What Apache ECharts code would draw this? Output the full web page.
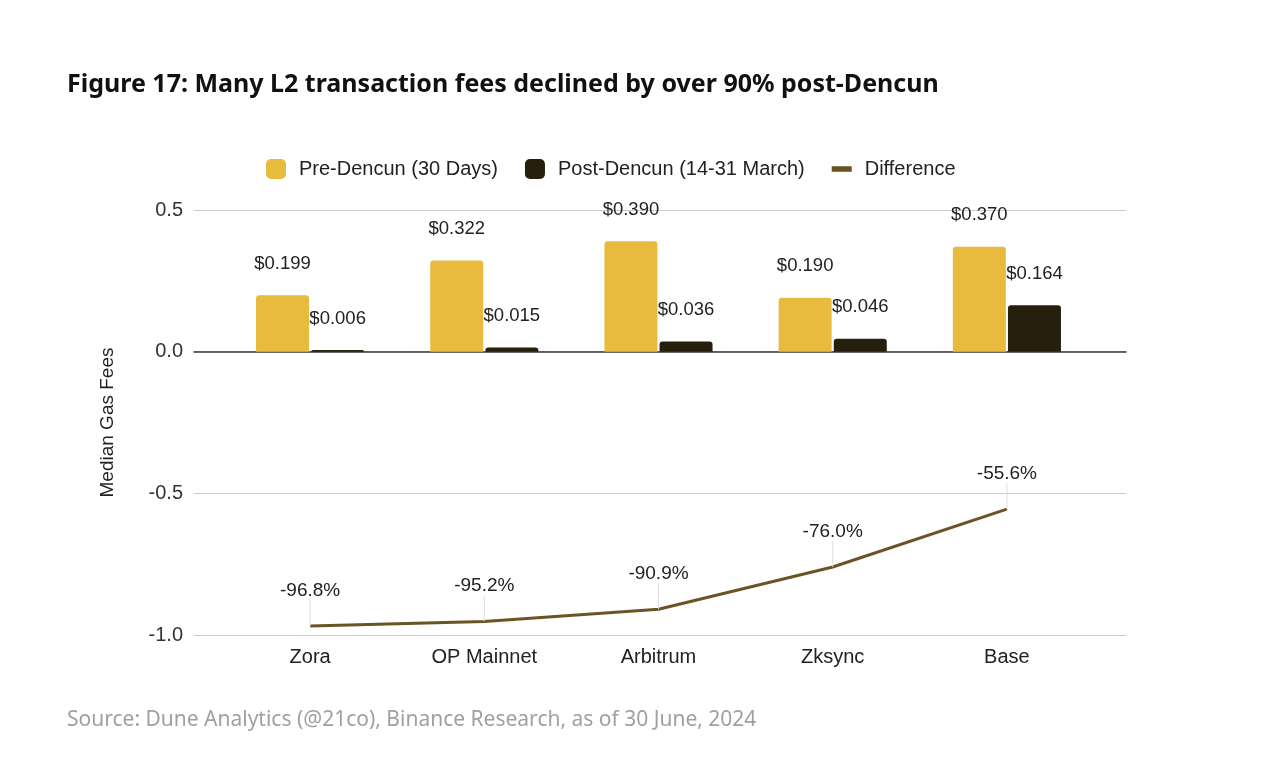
<!DOCTYPE html>
<html>
<head>
<meta charset="utf-8">
<script src="https://cdn.jsdelivr.net/npm/echarts@6/dist/echarts.min.js"></script>
<style>
html,body{margin:0;padding:0;background:#fff;}
#chart{width:1280px;height:758px;}
</style>
</head>
<body>
<div id="chart"></div>
<script>
const categories = ['Zora', 'OP Mainnet', 'Arbitrum', 'Zksync', 'Base'];
const preDencun = [0.199, 0.322, 0.390, 0.190, 0.370];
const postDencun = [0.006, 0.015, 0.036, 0.046, 0.164];
const difference = [-0.968, -0.952, -0.909, -0.760, -0.556];
const yTicks = { min: -1, max: 0.5, interval: 0.5 };

const chart = echarts.init(document.getElementById('chart'));
const sans = '"Liberation Sans", Arial, sans-serif';
const option = {
  backgroundColor: '#ffffff',
  animation: false,
  title: [{
    text: 'Figure 17: Many L2 transaction fees declined by over 90% post-Dencun',
    left: 62, top: 67,
    textStyle: { fontFamily: '"Noto Sans", sans-serif', fontWeight: 'bold', fontSize: 25, color: '#111' }
  }, {
    text: 'Source: Dune Analytics (@21co), Binance Research, as of 30 June, 2024',
    left: 62, top: 705,
    textStyle: { fontFamily: '"Noto Sans", sans-serif', fontWeight: 'normal', fontSize: 21, color: '#a0a0a0' }
  }],
  legend: {
    left: 261, top: 154,
    itemWidth: 20, itemHeight: 20, itemGap: 27,
    textStyle: { fontFamily: sans, fontSize: 20, color: '#222', padding: [0, 0, 0, 8] },
    data: [
      { name: 'Pre-Dencun (30 Days)', icon: 'roundRect' },
      { name: 'Post-Dencun (14-31 March)', icon: 'roundRect' },
      { name: 'Difference', icon: 'path://M0,0 H18 V5 H0 Z' }
    ]
  },
  grid: [
    { left: 194, top: 210, width: 932, height: 425 },
    { left: 223, top: 210, width: 871, height: 425 }
  ],
  xAxis: [{
    gridIndex: 0, type: 'value', min: 0, max: 1,
    axisLabel: { show: false }, axisTick: { show: false }, splitLine: { show: false },
    axisLine: { show: true, onZero: true, lineStyle: { color: '#3a3a3a', width: 1.5 } }
  }, {
    gridIndex: 1, type: 'category', data: categories,
    axisLine: { show: false }, axisTick: { show: false },
    axisLabel: { fontFamily: sans, fontSize: 20, color: '#222', margin: 12 }
  }],
  yAxis: [{
    gridIndex: 0, type: 'value', min: yTicks.min, max: yTicks.max, interval: yTicks.interval,
    name: 'Median Gas Fees', nameLocation: 'middle', nameGap: 77,
    nameTextStyle: { fontFamily: sans, fontSize: 19, color: '#222' },
    axisLabel: { fontFamily: sans, fontSize: 20, color: '#333', margin: 11, formatter: v => v.toFixed(1) },
    axisLine: { show: false }, axisTick: { show: false },
    splitLine: { lineStyle: { color: '#cccccc', width: 1 } }
  }, {
    gridIndex: 1, type: 'value', min: yTicks.min, max: yTicks.max, interval: yTicks.interval,
    show: false
  }],
  series: [{
    name: 'Pre-Dencun (30 Days)', type: 'bar', xAxisIndex: 1, yAxisIndex: 1,
    data: preDencun, barWidth: 53, barGap: '4%',
    itemStyle: { color: '#E8BB3F', borderRadius: [3, 3, 0, 0] },
    label: { show: true, position: 'top', distance: 22, fontFamily: sans, fontSize: 18.5, color: '#222',
      formatter: p => '$' + p.value.toFixed(3) }
  }, {
    name: 'Post-Dencun (14-31 March)', type: 'bar', xAxisIndex: 1, yAxisIndex: 1,
    data: postDencun, barWidth: 53, barGap: '4%',
    itemStyle: { color: '#261F0E', borderRadius: [3, 3, 0, 0] },
    label: { show: true, position: 'top', distance: 22, fontFamily: sans, fontSize: 18.5, color: '#222',
      formatter: p => '$' + p.value.toFixed(3) }
  }, {
    name: 'Difference', type: 'line', xAxisIndex: 1, yAxisIndex: 1,
    data: difference, showSymbol: true, symbol: 'circle', symbolSize: 0.1,
    lineStyle: { color: '#6B5424', width: 3 }, itemStyle: { color: '#6B5424' },
    label: { show: true, position: 'top', distance: 2, fontFamily: sans, fontSize: 19, color: '#222',
      formatter: p => (p.value * 100).toFixed(1) + '%' },
    labelLayout: { dy: -24 },
    labelLine: { show: true, lineStyle: { color: '#dddddd', width: 1 } }
  }]
};
chart.setOption(option);
</script>
</body>
</html>
